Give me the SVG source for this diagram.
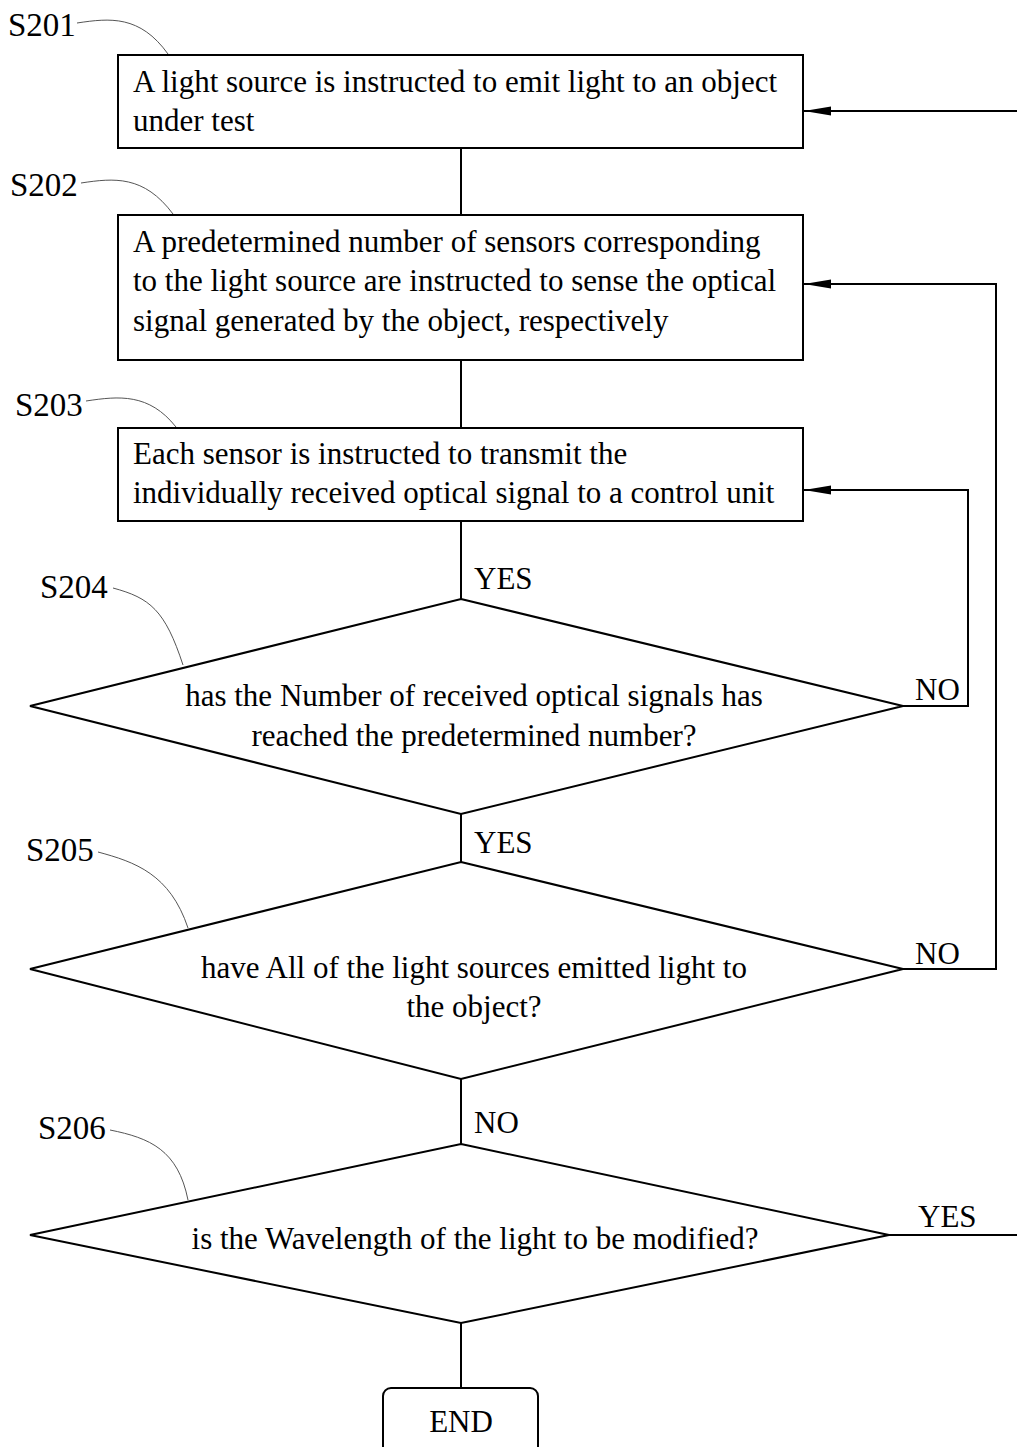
<svg xmlns="http://www.w3.org/2000/svg" width="1017" height="1447" viewBox="0 0 1017 1447">
<defs>
<marker id="arr" markerWidth="27" markerHeight="10" refX="27" refY="5" orient="auto" markerUnits="userSpaceOnUse">
<path d="M27,5 L0,0.5 L0,9.5 Z" fill="#000"/>
</marker>
<style>
.box{fill:#fff;stroke:#000;stroke-width:2}
.t{font-family:"Liberation Serif","Times New Roman",serif;font-size:31px;fill:#000}
.s{font-size:33px}
.m{text-anchor:middle}
.ln{fill:none;stroke:#000;stroke-width:2}
.ld{fill:none;stroke:#555;stroke-width:1}
</style>
</defs>
<rect width="1017" height="1447" fill="#fff"/>
<g id="connectors">
<path class="ln" d="M461,148 V215"/>
<path class="ln" d="M461,360 V428"/>
<path class="ln" d="M461,521 V599"/>
<path class="ln" d="M461,814 V862"/>
<path class="ln" d="M461,1079 V1144"/>
<path class="ln" d="M461,1323 V1388"/>
<path class="ln" d="M1017,111 H804" marker-end="url(#arr)"/>
<path class="ln" d="M903,706 H968 V490 H804" marker-end="url(#arr)"/>
<path class="ln" d="M903,969 H996 V284 H804" marker-end="url(#arr)"/>
<path class="ln" d="M889,1235 H1017"/>
<text class="t" x="474" y="589">YES</text>
<text class="t" x="474" y="853">YES</text>
<text class="t" x="474" y="1133">NO</text>
<text class="t" x="915" y="700">NO</text>
<text class="t" x="915" y="964">NO</text>
<text class="t" x="918" y="1227">YES</text>
</g>
<g id="S201">
<rect class="box" x="118" y="55" width="685" height="93"/>
<text class="t" x="133" y="92">A light source is instructed to emit light to an object</text>
<text class="t" x="133" y="131">under test</text>
<text class="t s" x="8" y="36">S201</text>
<path class="ld" d="M77,23 C110,18 140,15 168,54"/>
</g>
<g id="S202">
<rect class="box" x="118" y="215" width="685" height="145"/>
<text class="t" x="133" y="252">A predetermined number of sensors corresponding</text>
<text class="t" x="133" y="291">to the light source are instructed to sense the optical</text>
<text class="t" x="133" y="331">signal generated by the object, respectively</text>
<text class="t s" x="10" y="196">S202</text>
<path class="ld" d="M81,183 C114,178 144,175 173,214"/>
</g>
<g id="S203">
<rect class="box" x="118" y="428" width="685" height="93"/>
<text class="t" x="133" y="464">Each sensor is instructed to transmit the</text>
<text class="t" x="133" y="503">individually received optical signal to a control unit</text>
<text class="t s" x="15" y="416">S203</text>
<path class="ld" d="M86,401 C119,396 149,393 176,427"/>
</g>
<g id="S204">
<polygon class="box" points="461,599 903,706 461,814 30,706"/>
<text class="t m" x="474" y="706">has the Number of received optical signals has</text>
<text class="t m" x="474" y="746">reached the predetermined number?</text>
<text class="t s" x="40" y="598">S204</text>
<path class="ld" d="M113,588 C150,598 165,610 183,665"/>
</g>
<g id="S205">
<polygon class="box" points="461,862 903,969 461,1079 30,969"/>
<text class="t m" x="474" y="978">have All of the light sources emitted light to</text>
<text class="t m" x="474" y="1017">the object?</text>
<text class="t s" x="26" y="861">S205</text>
<path class="ld" d="M98,852 C135,862 170,874 188,928"/>
</g>
<g id="S206">
<polygon class="box" points="461,1144 889,1235 461,1323 30,1235"/>
<text class="t m" x="475" y="1249">is the Wavelength of the light to be modified?</text>
<text class="t s" x="38" y="1139">S206</text>
<path class="ld" d="M110,1130 C150,1138 178,1150 188,1200"/>
</g>
<g id="END">
<rect class="box" x="383" y="1388" width="155" height="70" rx="8"/>
<text class="t m" x="461" y="1432">END</text>
</g>
</svg>
